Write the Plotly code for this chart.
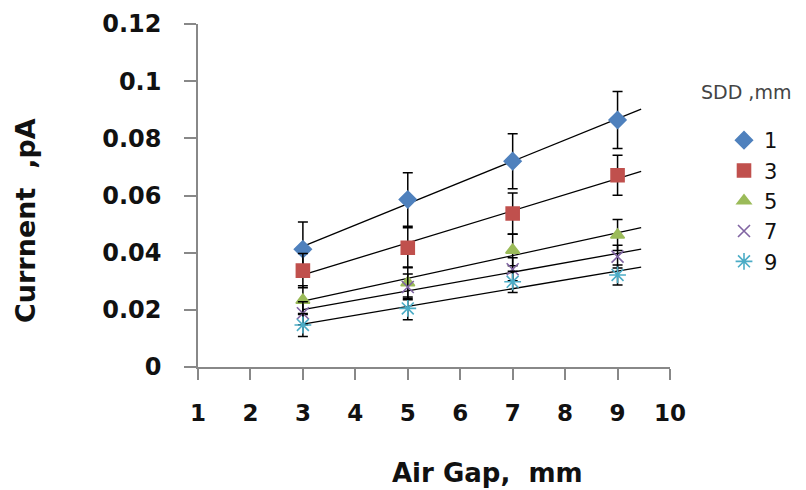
import numpy as np
import plotly.graph_objects as go

air_gap = [3, 5, 7, 9]
sdd_labels = ["1", "3", "5", "7", "9"]
sdd1 = [0.0412, 0.0586, 0.0720, 0.0864]
sdd3 = [0.0337, 0.0417, 0.0537, 0.0671]
sdd5 = [0.0234, 0.0295, 0.0409, 0.0462]
sdd7 = [0.0188, 0.0280, 0.0342, 0.0386]
sdd9 = [0.0147, 0.0205, 0.0298, 0.0322]
err1 = [0.0095, 0.0094, 0.0096, 0.0100]
err3 = [0.0060, 0.0070, 0.0072, 0.0070]
err5 = [0.0050, 0.0055, 0.0055, 0.0054]
err7 = [0.0040, 0.0045, 0.0040, 0.0040]
err9 = [0.0040, 0.0040, 0.0037, 0.0035]
x_ticks = [1, 2, 3, 4, 5, 6, 7, 8, 9, 10]
y_ticks = [0, 0.02, 0.04, 0.06, 0.08, 0.1, 0.12]
y_tick_text = ["0", "0.02", "0.04", "0.06", "0.08", "0.1", "0.12"]
trend_x = [3, 9.45]

series = [sdd1, sdd3, sdd5, sdd7, sdd9]
errors = [err1, err3, err5, err7, err9]
colors = ["#4F81BD", "#C0504D", "#9BBB59", "#8064A2", "#4BACC6"]
symbols = ["diamond", "square", "triangle-up", "x-thin-open", "asterisk-open"]
sizes = [13, 13, 12, 12, 14]

FONT = "DejaVu Sans"
fig = go.Figure()

# trend lines (linear fits)
for vals in series:
    k, b = np.polyfit(air_gap, vals, 1)
    fig.add_trace(go.Scatter(
        x=trend_x, y=[k * t + b for t in trend_x], mode="lines",
        line=dict(color="black", width=1.3), showlegend=False, hoverinfo="skip"))

for lab, vals, errs, col, sym, sz in zip(sdd_labels, series, errors, colors, symbols, sizes):
    fig.add_trace(go.Scatter(
        x=air_gap, y=vals, mode="markers", name=lab,
        marker=dict(symbol=sym, size=sz, color=col,
                    line=dict(color=col, width=1.6)),
        error_y=dict(type="data", array=errs, visible=True,
                     color="black", thickness=1.5, width=5)))

# plot area: x 198..670, y 24..367
PX0, PX1, PY0, PY1 = 198, 670, 367, 24
def px(x):
    return (x - PX0) / (PX1 - PX0)
def py(y):
    return (PY0 - y) / (PY0 - PY1)

fig.update_layout(
    width=806, height=490,
    margin=dict(l=198, r=806 - 670, t=24, b=490 - 367),
    paper_bgcolor="white", plot_bgcolor="white",
    font=dict(family=FONT, color="#000000"),
    showlegend=True,
    legend=dict(x=px(724), y=py(120), xanchor="left", yanchor="top",
                font=dict(family=FONT, size=21, color="#111111"),
                bgcolor="rgba(0,0,0,0)"),
    annotations=[
        dict(text="<b>Air Gap,  mm</b>", x=px(487), y=py(473), xref="paper", yref="paper",
             showarrow=False, font=dict(family=FONT, size=26, color="#111111"),
             xanchor="center", yanchor="middle"),
        dict(text="<b>Currnent  ,pA</b>", x=px(25), y=py(221), xref="paper", yref="paper",
             showarrow=False, textangle=-90, font=dict(family=FONT, size=27, color="#111111"),
             xanchor="center", yanchor="middle"),
        dict(text="SDD ,mm", x=px(699), y=py(92), xref="paper", yref="paper",
             showarrow=False, font=dict(family=FONT, size=19, color="#444444"),
             xanchor="left", yanchor="middle"),
    ],
)

fig.update_xaxes(
    range=[1, 10], tickvals=x_ticks, ticktext=["<b>%d</b>" % v for v in x_ticks],
    showgrid=False, zeroline=False, showline=True, linecolor="#888888", linewidth=1.5,
    ticks="outside", ticklen=11, tickcolor="#888888", tickwidth=1.5, ticklabelstandoff=14,
    tickfont=dict(family=FONT, size=23, color="#111111"), automargin=False)
fig.update_yaxes(
    range=[0, 0.12], tickvals=y_ticks, ticktext=["<b>%s</b>" % t for t in y_tick_text],
    showgrid=False, zeroline=False, showline=True, linecolor="#888888", linewidth=1.5,
    ticks="outside", ticklen=12, tickcolor="#888888", tickwidth=1.5, ticklabelstandoff=18,
    tickfont=dict(family=FONT, size=24, color="#111111"), automargin=False)

fig.write_html("out.html", config={"displayModeBar": False},
               post_script="document.body.style.margin='0';document.body.style.overflow='hidden';")
